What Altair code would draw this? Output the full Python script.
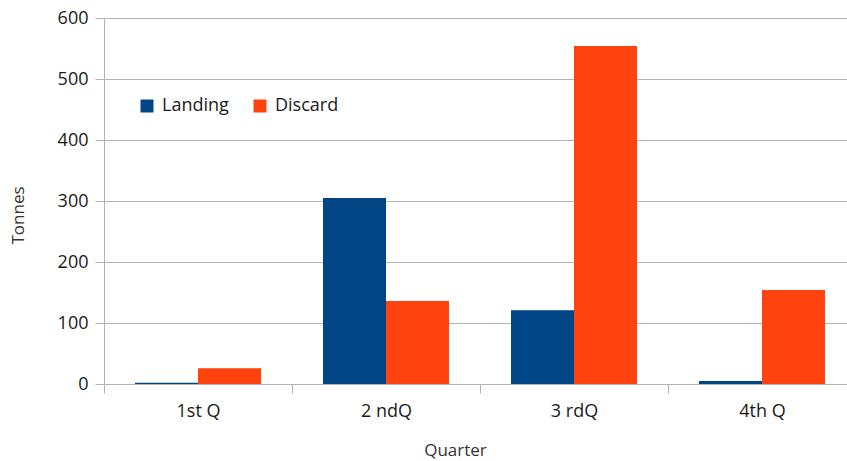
import altair as alt
import pandas as pd

# Quarterly catch split into landings and discards (tonnes)
quarters = ["1st Q", "2 ndQ", "3 rdQ", "4th Q"]
landing = [2, 305, 121, 5]
discard = [26, 136, 554, 154]
series = ["Landing", "Discard"]
colors = ["#004586", "#ff420e"]

rows = []
for q, l, d in zip(quarters, landing, discard):
    rows.append({"Quarter": q, "Series": "Landing", "Tonnes": l})
    rows.append({"Quarter": q, "Series": "Discard", "Tonnes": d})
df = pd.DataFrame(rows)

FONT = "Open Sans"
TEXT = "#1a1a1a"
GRID = "#b3b3b3"

chart = (
    alt.Chart(df)
    .mark_bar()
    .encode(
        x=alt.X(
            "Quarter:N",
            sort=quarters,
            scale=alt.Scale(range=[0, 752], paddingInner=0, paddingOuter=0),
            axis=alt.Axis(
                title="Quarter",
                labelAngle=0,
                tickBand="extent",
                tickSize=9,
                tickColor=GRID,
                domainColor=GRID,
                labelPadding=9,
                labelFontSize=18,
                labelColor=TEXT,
                labelFont=FONT,
                titleFont=FONT,
                titleFontSize=17,
                titleFontWeight="normal",
                titleColor="#333333",
                titleX=351,
                titleY=66,
                titleBaseline="middle",
            ),
        ),
        # bars of a quarter sit in the middle two thirds of its band
        xOffset=alt.XOffset(
            "Series:N",
            sort=series,
            scale=alt.Scale(paddingInner=0, paddingOuter=0.492),
        ),
        y=alt.Y(
            "Tonnes:Q",
            scale=alt.Scale(domain=[0, 600], nice=False),
            axis=alt.Axis(
                values=[0, 100, 200, 300, 400, 500, 600],
                tickSize=9,
                tickColor=GRID,
                domainColor=GRID,
                gridColor=GRID,
                labelPadding=7,
                labelFontSize=18,
                labelColor=TEXT,
                labelFont=FONT,
                titleFont=FONT,
                titleFontSize=17,
                titleFontWeight="normal",
                titleColor="#333333",
                titleAngle=270,
                titleX=-86,
                titleY=197,
                titleBaseline="middle",
            ),
        ),
        color=alt.Color(
            "Series:N",
            sort=series,
            scale=alt.Scale(domain=series, range=colors),
            legend=alt.Legend(
                title=None,
                orient="none",
                legendX=34,
                legendY=79,
                direction="horizontal",
                symbolType="square",
                symbolSize=169,
                symbolStrokeWidth=0,
                labelFontSize=18,
                labelFont=FONT,
                labelColor=TEXT,
                labelOffset=6,
                columnPadding=22,
            ),
        ),
    )
    .properties(
        width=743,
        height=366,
        autosize=alt.AutoSizeParams(type="none"),
        padding={"left": 104, "top": 18, "right": 0, "bottom": 77},
    )
    .configure_view(stroke=None)
    .configure_axis(grid=True)
    .configure_axisX(grid=False)
)

chart.save("out.html", embed_options={"renderer": "svg", "actions": False})
